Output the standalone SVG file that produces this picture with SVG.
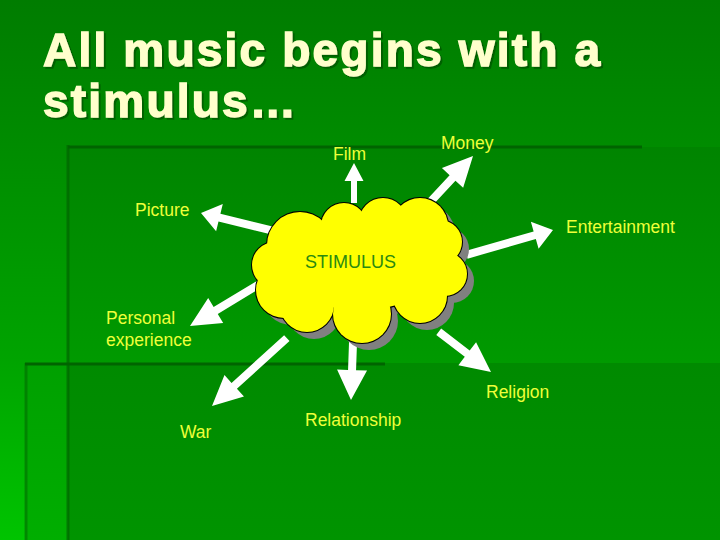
<svg xmlns="http://www.w3.org/2000/svg" width="720" height="540" viewBox="0 0 720 540">
  <defs>
    <linearGradient id="bg" x1="0" y1="0" x2="0" y2="1">
      <stop offset="0" stop-color="#007c00"/>
      <stop offset="0.67" stop-color="#00a400"/>
      <stop offset="1" stop-color="#00c400"/>
    </linearGradient>
    <linearGradient id="panelB" x1="0" y1="0" x2="0" y2="1">
      <stop offset="0" stop-color="#008400"/>
      <stop offset="1" stop-color="#009a00"/>
    </linearGradient>
    <linearGradient id="panelD" x1="0" y1="0" x2="0" y2="1">
      <stop offset="0" stop-color="#008a00"/>
      <stop offset="1" stop-color="#009400"/>
    </linearGradient>
    <linearGradient id="panelC" x1="0" y1="0" x2="0" y2="1">
      <stop offset="0" stop-color="#00a000"/>
      <stop offset="1" stop-color="#00ae00"/>
    </linearGradient>
    <filter id="tshadow" x="-5%" y="-20%" width="110%" height="140%">
      <feDropShadow dx="2" dy="2" stdDeviation="0.6" flood-color="#004a00" flood-opacity="0.6"/>
    </filter>
    <g id="bumps">
      <ellipse cx="360" cy="265" rx="80" ry="45"/>
      <circle cx="300" cy="245" r="33"/>
      <circle cx="344" cy="226" r="23"/>
      <circle cx="383" cy="222" r="24"/>
      <circle cx="420" cy="226" r="28"/>
      <circle cx="440" cy="242" r="22"/>
      <circle cx="445" cy="274" r="22"/>
      <circle cx="420" cy="296" r="27"/>
      <circle cx="362" cy="314" r="29"/>
      <circle cx="307" cy="305" r="27"/>
      <circle cx="284" cy="290" r="28"/>
      <circle cx="275" cy="265" r="23"/>
    </g>
  </defs>
  <style>
    .title { font-family: "Liberation Sans", Arial, sans-serif; font-weight: bold; font-size: 46px; letter-spacing: 2.2px; fill: #ffffcc; stroke: #ffffcc; stroke-width: 1.4px; }
    .lbl { font-family: "Liberation Sans", Arial, sans-serif; font-size: 17.5px; fill: #eeff3a; }
    .core { font-family: "Liberation Sans", Arial, sans-serif; font-size: 18px; fill: #2a8a10; }
    .arrow { fill: #ffffff; }
    .rule { stroke: #006400; stroke-width: 3; fill: none; }
  </style>

  <!-- background -->
  <rect x="0" y="0" width="720" height="540" fill="url(#bg)"/>
  <rect x="68" y="147" width="652" height="216" fill="url(#panelB)"/>
  <rect x="25" y="363" width="43" height="177" fill="url(#panelC)"/>
  <rect x="68" y="363" width="652" height="177" fill="url(#panelD)"/>
  <line class="rule" x1="68" y1="147" x2="642" y2="147"/>
  <line class="rule" x1="68" y1="145" x2="68" y2="540" stroke-opacity="0.7"/>
  <line class="rule" x1="25" y1="364" x2="385" y2="364"/>
  <line class="rule" x1="26" y1="363" x2="26" y2="540" stroke-opacity="0.5"/>

  <!-- title -->
  <g id="title" filter="url(#tshadow)">
    <text class="title" x="43" y="66">All music begins with a</text>
    <text class="title" x="43" y="117">stimulus…</text>
  </g>

  <!-- connectors -->
  <g id="connectors">
    <polygon class="arrow" transform="translate(354,163) rotate(-90)" points="0,0 -18,-9.5 -18,-3 -40,-3 -40,3 -18,3 -18,9.5"/>
    <polygon class="arrow" transform="translate(473,156) rotate(-47)" points="0,0 -30,-14.5 -30,-4 -72,-4 -72,4 -30,4 -30,14.5"/>
    <polygon class="arrow" transform="translate(201,213) rotate(-166.2)" points="0,0 -19,-14 -19,-4 -80,-4 -80,4 -19,4 -19,14"/>
    <polygon class="arrow" transform="translate(553,230) rotate(-16)" points="0,0 -19,-14 -19,-4 -90,-4 -90,4 -19,4 -19,14"/>
    <polygon class="arrow" transform="translate(190,326) rotate(148.9)" points="0,0 -30,-14.5 -30,-4 -88,-4 -88,4 -30,4 -30,14.5"/>
    <polygon class="arrow" transform="translate(212,406) rotate(137.8)" points="0,0 -30,-14.5 -30,-4 -101,-4 -101,4 -30,4 -30,14.5"/>
    <polygon class="arrow" transform="translate(351,400) rotate(92)" points="0,0 -30,-15 -30,-4 -64,-4 -64,4 -30,4 -30,15"/>
    <polygon class="arrow" transform="translate(491,372) rotate(37.6)" points="0,0 -30,-14.5 -30,-4 -66,-4 -66,4 -30,4 -30,14.5"/>
  </g>

  <!-- cloud node -->
  <g id="stimulus">
    <use href="#bumps" transform="translate(7,7)" fill="#808080"/>
    <use href="#bumps" fill="#ffff00" stroke="#000000" stroke-width="2"/>
    <use href="#bumps" fill="#ffff00"/>
    <text class="core" x="305" y="268">STIMULUS</text>
  </g>

  <g id="film"><text class="lbl" x="333" y="160">Film</text></g>
  <g id="money"><text class="lbl" x="441" y="149">Money</text></g>
  <g id="picture"><text class="lbl" x="135" y="216">Picture</text></g>
  <g id="entertainment"><text class="lbl" x="566" y="233">Entertainment</text></g>
  <g id="personal"><text class="lbl" x="106" y="324">Personal</text><text class="lbl" x="106" y="346">experience</text></g>
  <g id="religion"><text class="lbl" x="486" y="398">Religion</text></g>
  <g id="war"><text class="lbl" x="180" y="438">War</text></g>
  <g id="relationship"><text class="lbl" x="305" y="426">Relationship</text></g>
</svg>
